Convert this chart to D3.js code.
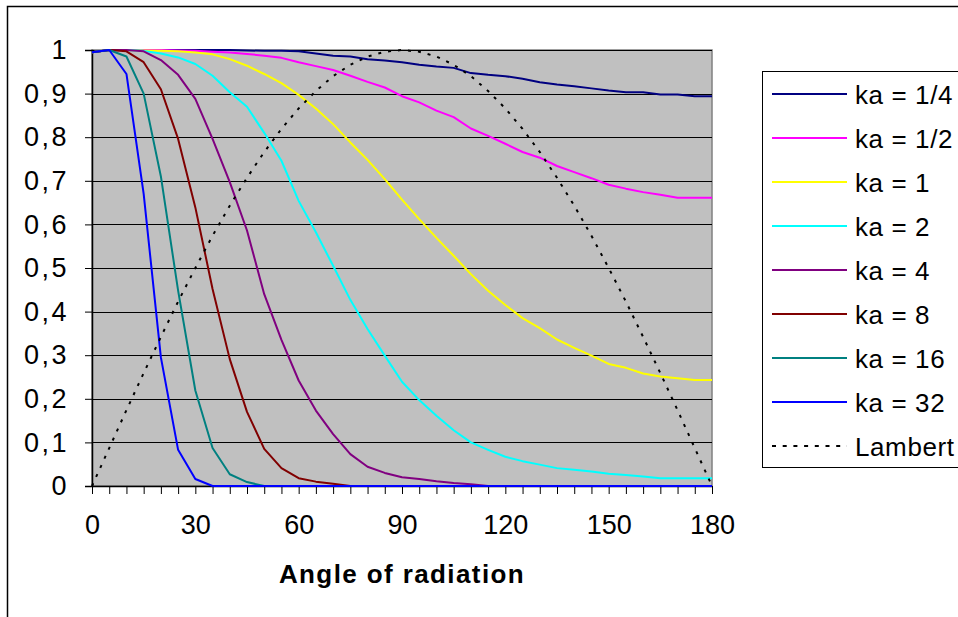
<!DOCTYPE html>
<html>
<head>
<meta charset="utf-8">
<script src="https://cdn.jsdelivr.net/npm/d3@7"></script>
<style>
  html, body { margin: 0; padding: 0; background: #fff; }
  svg { display: block; font-family: "Liberation Sans", Arial, sans-serif; }
</style>
</head>
<body>
<svg id="chart" width="958" height="617"></svg>
<script>
// Radiation angle in degrees, sampled every 5°
const angles = d3.range(0, 181, 5);
const xTickLabels = [0, 30, 60, 90, 120, 150, 180];
const yTickLabels = ["0", "0,1", "0,2", "0,3", "0,4", "0,5", "0,6", "0,7", "0,8", "0,9", "1"];

const ka_1_4 = [0.995, 1, 1, 1, 1, 1, 1, 1, 1, 0.999, 0.998, 0.998, 0.997, 0.992, 0.987, 0.985, 0.979, 0.976, 0.972, 0.966, 0.962, 0.959, 0.947, 0.943, 0.94, 0.934, 0.926, 0.921, 0.917, 0.912, 0.907, 0.903, 0.903, 0.898, 0.898, 0.894, 0.894];
const ka_1_2 = [0.995, 1, 1, 1, 1, 0.999, 0.998, 0.996, 0.994, 0.991, 0.987, 0.982, 0.972, 0.963, 0.954, 0.941, 0.927, 0.914, 0.894, 0.88, 0.861, 0.846, 0.82, 0.803, 0.785, 0.766, 0.753, 0.734, 0.72, 0.706, 0.691, 0.682, 0.674, 0.668, 0.661, 0.661, 0.661];
const ka_1 = [0.995, 1, 1, 0.999, 0.998, 0.997, 0.994, 0.99, 0.979, 0.964, 0.945, 0.924, 0.897, 0.866, 0.83, 0.788, 0.748, 0.704, 0.657, 0.612, 0.569, 0.528, 0.486, 0.448, 0.415, 0.385, 0.362, 0.336, 0.317, 0.299, 0.28, 0.271, 0.258, 0.251, 0.247, 0.243, 0.243];
const ka_2 = [0.995, 1, 1, 0.998, 0.992, 0.983, 0.968, 0.941, 0.903, 0.87, 0.81, 0.746, 0.654, 0.582, 0.505, 0.427, 0.36, 0.299, 0.239, 0.197, 0.161, 0.128, 0.1, 0.083, 0.067, 0.057, 0.049, 0.041, 0.037, 0.033, 0.028, 0.025, 0.022, 0.018, 0.018, 0.018, 0.018];
const ka_4 = [0.995, 1, 1, 0.997, 0.977, 0.943, 0.888, 0.796, 0.697, 0.586, 0.44, 0.335, 0.242, 0.173, 0.119, 0.073, 0.044, 0.03, 0.02, 0.016, 0.011, 0.007, 0.004, 0, 0, 0, 0, 0, 0, 0, 0, 0, 0, 0, 0, 0, 0];
const ka_8 = [0.995, 1, 0.997, 0.972, 0.91, 0.796, 0.639, 0.452, 0.291, 0.17, 0.085, 0.041, 0.018, 0.01, 0.005, 0, 0, 0, 0, 0, 0, 0, 0, 0, 0, 0, 0, 0, 0, 0, 0, 0, 0, 0, 0, 0, 0];
const ka_16 = [0.995, 1, 0.985, 0.9, 0.71, 0.448, 0.219, 0.087, 0.027, 0.009, 0, 0, 0, 0, 0, 0, 0, 0, 0, 0, 0, 0, 0, 0, 0, 0, 0, 0, 0, 0, 0, 0, 0, 0, 0, 0, 0];
const ka_32 = [0.995, 1, 0.945, 0.67, 0.295, 0.083, 0.016, 0, 0, 0, 0, 0, 0, 0, 0, 0, 0, 0, 0, 0, 0, 0, 0, 0, 0, 0, 0, 0, 0, 0, 0, 0, 0, 0, 0, 0, 0];
const lambert = [0, 0.087, 0.174, 0.259, 0.342, 0.423, 0.5, 0.574, 0.643, 0.707, 0.766, 0.819, 0.866, 0.906, 0.94, 0.966, 0.985, 0.996, 1, 0.996, 0.985, 0.966, 0.94, 0.906, 0.866, 0.819, 0.766, 0.707, 0.643, 0.574, 0.5, 0.423, 0.342, 0.259, 0.174, 0.087, 0];

const seriesNames = ["ka = 1/4", "ka = 1/2", "ka = 1", "ka = 2", "ka = 4", "ka = 8", "ka = 16", "ka = 32", "Lambert"];
const seriesValues = [ka_1_4, ka_1_2, ka_1, ka_2, ka_4, ka_8, ka_16, ka_32, lambert];
const seriesColors = ["#000080", "#FF00FF", "#FFFF00", "#00FFFF", "#800080", "#800000", "#008080", "#0000FF", "#000000"];

const svg = d3.select("#chart");
const FONT = "Liberation Sans, Arial, sans-serif";

// Outer chart frame
svg.append("rect")
  .attr("x", 7.5).attr("y", 6.5)
  .attr("width", 1000).attr("height", 700)
  .attr("fill", "#fff").attr("stroke", "#000").attr("stroke-width", 1.5);

const plot = { left: 92, right: 712, top: 50, bottom: 486 };

const x = d3.scaleLinear().domain([0, 180]).range([plot.left, plot.right]);
const y = d3.scaleLinear().domain([0, 1]).range([plot.bottom, plot.top]);

// Plot area background
svg.append("rect")
  .attr("x", plot.left).attr("y", plot.top)
  .attr("width", plot.right - plot.left).attr("height", plot.bottom - plot.top)
  .attr("fill", "#C0C0C0").attr("stroke", "#808080").attr("stroke-width", 1.5);

// Horizontal gridlines
svg.append("g")
  .selectAll("line")
  .data(d3.range(1, 11).map(i => i / 10))
  .join("line")
  .attr("x1", plot.left).attr("x2", plot.right)
  .attr("y1", d => Math.round(y(d)) + 0.5).attr("y2", d => Math.round(y(d)) + 0.5)
  .attr("stroke", "#000").attr("stroke-width", 1);

// Y axis
const yAxis = d3.axisLeft(y)
  .tickValues(d3.range(0, 11).map(i => i / 10))
  .tickFormat((d, i) => yTickLabels[i])
  .tickSize(7).tickPadding(16);
const gy = svg.append("g").attr("transform", `translate(${plot.left},0)`).call(yAxis);
gy.select(".domain").attr("stroke", "#000").attr("stroke-width", 1.5);
gy.selectAll(".tick line").attr("stroke", "#000");
gy.selectAll(".tick text")
  .attr("font-size", 27).attr("fill", "#000")
  .attr("letter-spacing", 2.5)
  .attr("font-family", FONT);

// X axis: minor ticks every 5°, labels every 30°
const xAxis = d3.axisBottom(x)
  .tickValues(angles)
  .tickFormat(d => xTickLabels.includes(d) ? String(d) : "")
  .tickSize(8).tickPadding(21).tickSizeOuter(0);
const gx = svg.append("g").attr("transform", `translate(0,${plot.bottom})`).call(xAxis);
gx.select(".domain").attr("stroke", "#000").attr("stroke-width", 1.5);
gx.selectAll(".tick line").attr("stroke", "#000");
gx.selectAll(".tick text")
  .attr("font-size", 27).attr("fill", "#000")
  .attr("font-family", FONT);

// Series lines
const line = d3.line().x((d, i) => x(angles[i])).y(d => y(d));
const gLines = svg.append("g").attr("fill", "none");
seriesValues.forEach((vals, k) => {
  const isLambert = seriesNames[k] === "Lambert";
  gLines.append("path")
    .datum(vals)
    .attr("d", line)
    .attr("stroke", seriesColors[k])
    .attr("stroke-width", 2)
    .attr("stroke-dasharray", isLambert ? "3,7" : null)
    .attr("stroke-linejoin", "round");
});

// Axis title
svg.append("text")
  .attr("x", (plot.left + plot.right) / 2).attr("y", 583)
  .attr("text-anchor", "middle")
  .attr("font-size", 26).attr("font-weight", "bold")
  .attr("letter-spacing", 1.4)
  .text("Angle of radiation");

// Legend
const legend = svg.append("g");
legend.append("rect")
  .attr("x", 762.5).attr("y", 71.5)
  .attr("width", 300).attr("height", 396)
  .attr("fill", "#fff").attr("stroke", "#000").attr("stroke-width", 1);
seriesNames.forEach((name, k) => {
  const ly = 94 + k * 44;
  legend.append("line")
    .attr("x1", 772).attr("x2", 847)
    .attr("y1", ly).attr("y2", ly)
    .attr("stroke", seriesColors[k]).attr("stroke-width", 2)
    .attr("stroke-dasharray", name === "Lambert" ? "4,6.7" : null);
  legend.append("text")
    .attr("x", 855).attr("y", ly + 10)
    .attr("font-size", 26).attr("letter-spacing", 0.6)
    .text(name);
});
</script>
</body>
</html>
